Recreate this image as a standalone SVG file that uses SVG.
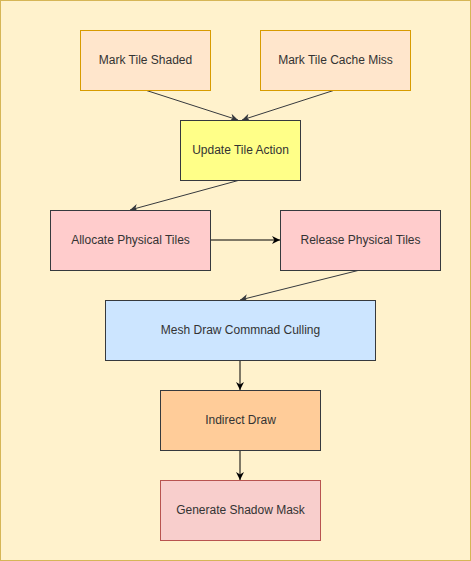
<svg xmlns="http://www.w3.org/2000/svg" width="471" height="561" viewBox="0 0 471 561">
<defs>
<marker id="arrD" viewBox="0 0 10 10" refX="10" refY="5" markerWidth="8" markerHeight="8" markerUnits="userSpaceOnUse" orient="auto">
<path d="M0,0 L10,5 L0,10 L3,5 Z" fill="#36393d"/>
</marker>
<marker id="arrK" viewBox="0 0 10 10" refX="10" refY="5" markerWidth="8" markerHeight="8" markerUnits="userSpaceOnUse" orient="auto">
<path d="M0,0 L10,5 L0,10 L3,5 Z" fill="#000000"/>
</marker>
</defs>
<style>
text{font-family:"Liberation Sans",Arial,sans-serif;font-size:12px;fill:#333333;text-anchor:middle;dominant-baseline:central}
.e{fill:none;stroke-width:1}
.d{stroke:#36393d;marker-end:url(#arrD)}
.k{stroke:#000000;marker-end:url(#arrK)}
</style>
<rect x="0.5" y="0.5" width="470" height="560" fill="#fff2cc" stroke="#d6b656"/>
<g id="connectors">
<line class="e d" x1="145" y1="90" x2="238" y2="120"/>
<line class="e d" x1="335" y1="90" x2="242" y2="120"/>
<line class="e d" x1="240" y1="180" x2="130" y2="210"/>
<line class="e k" x1="210" y1="240" x2="280" y2="240"/>
<line class="e d" x1="360" y1="270" x2="240" y2="300"/>
<line class="e k" x1="240" y1="360" x2="240" y2="390"/>
<line class="e k" x1="240" y1="450" x2="240" y2="480"/>
</g>
<g id="n1"><rect x="80.5" y="30.5" width="130" height="60" fill="#ffe6cc" stroke="#d79b00"/><text x="145.5" y="59.5">Mark Tile Shaded</text></g>
<g id="n2"><rect x="260.5" y="30.5" width="150" height="60" fill="#ffe6cc" stroke="#d79b00"/><text x="335.5" y="59.5">Mark Tile Cache Miss</text></g>
<g id="n3"><rect x="180.5" y="120.5" width="120" height="60" fill="#ffff88" stroke="#36393d"/><text x="240.5" y="149.5">Update Tile Action</text></g>
<g id="n4"><rect x="50.5" y="210.5" width="160" height="60" fill="#ffcccc" stroke="#36393d"/><text x="130.5" y="239.5">Allocate Physical Tiles</text></g>
<g id="n5"><rect x="280.5" y="210.5" width="160" height="60" fill="#ffcccc" stroke="#36393d"/><text x="360.5" y="239.5">Release Physical Tiles</text></g>
<g id="n6"><rect x="105.5" y="300.5" width="270" height="60" fill="#cce5ff" stroke="#36393d"/><text x="240.5" y="329.5">Mesh Draw Commnad Culling</text></g>
<g id="n7"><rect x="160.5" y="390.5" width="160" height="60" fill="#ffcc99" stroke="#36393d"/><text x="240.5" y="419.5">Indirect Draw</text></g>
<g id="n8"><rect x="160.5" y="480.5" width="160" height="60" fill="#f8cecc" stroke="#b85450"/><text x="240.5" y="509.5">Generate Shadow Mask</text></g>
</svg>
